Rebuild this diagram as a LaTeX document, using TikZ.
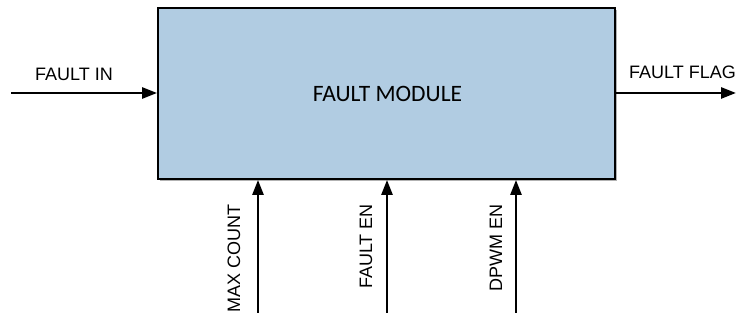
\documentclass[tikz,border=0pt]{standalone}
\usepackage{fontspec}
\setmainfont{Liberation Sans}
\newfontfamily\calib{Carlito}
\usetikzlibrary{arrows.meta}
\definecolor{boxblue}{RGB}{177,204,226}
\begin{document}
\begin{tikzpicture}[x=1pt,y=1pt,
  sig/.style={line width=2.6pt,-{Triangle[length=15pt,width=11pt]}},
  lbl/.style={font=\fontsize{18}{21}\selectfont,inner sep=0pt},
  vlbl/.style={lbl,rotate=90,anchor=east}]
\useasboundingbox (0,0) rectangle (738,320);
\fill[gray!60] (160,139) rectangle (617,310);
\node[draw=black,line width=1.8pt,fill=boxblue,minimum width=457pt,minimum height=171pt,inner sep=0pt] (box) at (386.5,226.5) {};
\node[font=\calib\fontsize{23.5}{26}\selectfont,inner sep=0pt] (title) at (387.5,226.5) {FAULT MODULE};
\coordinate (inS) at (11,227);
\coordinate (outE) at (736,227);
\draw[sig] (inS) -- (inS -| box.west);
\draw[sig] (box.east |- outE) -- (outE);
\node[lbl] (lin) at (74,246) {FAULT IN};
\node[lbl] (lout) at (682.5,247.5) {FAULT FLAG};
\coordinate (b1) at (258,7);
\coordinate (b2) at (387,7);
\coordinate (b3) at (516,7);
\draw[sig] (b1) -- (b1 |- box.south);
\draw[sig] (b2) -- (b2 |- box.south);
\draw[sig] (b3) -- (b3 |- box.south);
\node[vlbl] (l1) at (234,116) {MAX COUNT};
\node[vlbl] (l2) at (366,116) {FAULT EN};
\node[vlbl] (l3) at (496,116) {DPWM EN};
\end{tikzpicture}
\end{document}
